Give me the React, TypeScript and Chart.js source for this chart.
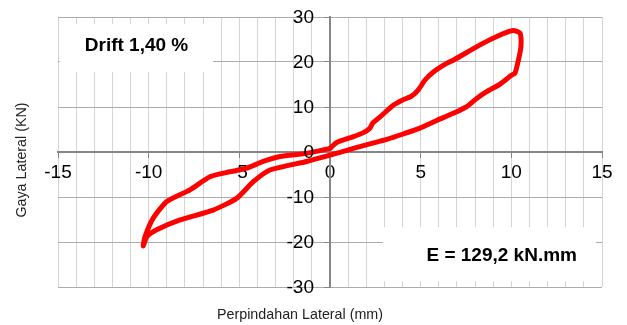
import React, { useEffect, useRef } from "react";
import { Chart, registerables } from "chart.js";

Chart.register(...registerables);

// Hysteresis loop: displacement (mm) and lateral force (kN)
const dispMM = [
  0, 0.37, 1.29, 1.84, 2.2, 2.35, 2.76, 3.49, 4.04, 4.5, 4.87, 5.24, 5.7, 6.43, 6.8, 8.27, 9.38, 10.1, 10.48, 10.53, 10.39, 10.2,
  10.02, 9.38, 8.64, 8.09, 7.54, 6.8, 5.88, 4.96, 4.04, 3.13, 2.2, 1.29, 0, -1.29, -3.31, -4.23, -5.15, -6.44, -8.27, -9.56, -10.1, -10.3,
  -10.2, -9.75, -9.0, -7.72, -6.62, -5.52, -4.6, -3.68, -2.76, -1.29, 0,
];
const forceKN = [
  0.8, 2.1, 3.4, 4.3, 5.3, 6.4, 7.8, 10.4, 11.6, 12.4, 13.8, 16, 17.8, 19.7, 20.4, 23.8, 26, 27, 26.4, 23.4, 20.4, 17.5,
  17.1, 15.1, 13.4, 11.9, 10.1, 8.6, 7, 5.3, 4, 2.8, 1.8, 0.8, -0.7, -2.1, -4, -6.6, -10.3, -12.9, -15.1, -17.3, -18.8, -20.9,
  -18.8, -14.7, -11, -8.4, -5.5, -4.4, -3.6, -2.1, -1, -0.3, 0.8,
];

const xMin = -15;
const xMax = 15;
const yMin = -30;
const yMax = 30;
const xLabelStep = 5;
const yTickLabels = ["-30", "-20", "-10", "0", "10", "20", "30"];

const xTitle = "Perpindahan Lateral (mm)";
const yTitle = "Gaya Lateral (KN)";
const driftText = "Drift 1,40 %";
const energyText = "E = 129,2 kN.mm";

const FONT = "'Liberation Sans', Arial, sans-serif";

const overlayPlugin = {
  id: "overlay",
  beforeDatasetsDraw(chart: any) {
    const ctx = chart.ctx;
    const xs = chart.scales.x;
    const ys = chart.scales.y;
    ctx.save();
    ctx.fillStyle = "#ffffff";
    const box = (x0: number, x1: number, y0: number, y1: number) => {
      const px0 = xs.getPixelForValue(x0);
      const px1 = xs.getPixelForValue(x1);
      const py0 = ys.getPixelForValue(y0);
      const py1 = ys.getPixelForValue(y1);
      ctx.fillRect(px0, py1, px1 - px0, py0 - py1);
    };
    box(-14.9, -6.45, 17.8, 28.4);
    box(2.92, 14.67, -28.7, -16.7);
    ctx.fillStyle = "#000000";
    ctx.font = `bold 19px ${FONT}`;
    ctx.textAlign = "center";
    ctx.textBaseline = "middle";
    ctx.fillText(driftText, xs.getPixelForValue(-10.67), ys.getPixelForValue(23.6));
    ctx.fillText(energyText, xs.getPixelForValue(9.47), ys.getPixelForValue(-23.1));
    ctx.restore();
  },
  afterDraw(chart: any) {
    const ctx = chart.ctx;
    const area = chart.chartArea;
    const xs = chart.scales.x;
    const ys = chart.scales.y;
    ctx.save();
    // y tick labels, right aligned left of the centred y axis
    ctx.fillStyle = "#000000";
    ctx.font = `19px ${FONT}`;
    ctx.textAlign = "right";
    ctx.textBaseline = "middle";
    const axisX = xs.getPixelForValue(0);
    yTickLabels.forEach((t) => {
      ctx.fillText(t, axisX - 16, ys.getPixelForValue(Number(t)) + 1);
    });
    // axis titles
    ctx.fillStyle = "#222222";
    ctx.font = `14.3px ${FONT}`;
    ctx.textAlign = "center";
    ctx.fillText(xTitle, (area.left + area.right) / 2 - 30, area.bottom + 28);
    ctx.translate(22, (area.top + area.bottom) / 2 + 8);
    ctx.rotate(-Math.PI / 2);
    ctx.fillText(yTitle, 0, 0);
    ctx.restore();
  },
};

export default function App() {
  const canvasRef = useRef<HTMLCanvasElement | null>(null);

  useEffect(() => {
    if (!canvasRef.current) return;
    const data = dispMM.map((x, i) => ({ x, y: forceKN[i] }));
    const chart = new Chart(canvasRef.current, {
      type: "scatter",
      data: {
        datasets: [
          {
            data,
            showLine: true,
            borderColor: "#ff0000",
            borderWidth: 5,
            pointRadius: 0,
            tension: 0.2,
            borderJoinStyle: "round",
            borderCapStyle: "round",
          } as any,
        ],
      },
      plugins: [overlayPlugin],
      options: {
        responsive: false,
        animation: false,
        layout: { padding: { left: 58, right: 25, top: 17, bottom: 38 } },
        plugins: { legend: { display: false }, tooltip: { enabled: false } },
        scales: {
          x: {
            type: "linear",
            min: xMin,
            max: xMax,
            position: { y: 0 } as any,
            afterFit: (s: any) => {
              s.height = 0;
            },
            ticks: {
              stepSize: 1,
              autoSkip: false,
              maxRotation: 0,
              padding: 4,
              color: "#000000",
              font: { family: FONT, size: 19 },
              callback: (v: any) => (Number(v) % xLabelStep === 0 ? String(v) : ""),
            },
            grid: {
              color: "#d4d4d4",
              lineWidth: 1,
              tickLength: 5,
              tickColor: (c: any) =>
                c.tick && Number(c.tick.value) % xLabelStep === 0 ? "#868686" : "rgba(0,0,0,0)",
            },
            border: { color: "#868686", width: 2 },
          },
          y: {
            type: "linear",
            min: yMin,
            max: yMax,
            position: { x: 0 } as any,
            afterFit: (s: any) => {
              s.width = 0;
            },
            ticks: {
              stepSize: 10,
              color: "rgba(0,0,0,0)",
              font: { family: FONT, size: 19 },
            },
            grid: {
              color: "#ababab",
              lineWidth: 1,
              tickLength: 5,
              tickColor: "#868686",
            },
            border: { color: "#868686", width: 2 },
          },
        },
      },
    });
    return () => chart.destroy();
  }, []);

  return (
    <div style={{ position: "fixed", left: 0, top: 0, width: 627, height: 325, background: "#fff" }}>
      <canvas ref={canvasRef} width={627} height={325} style={{ display: "block" }} />
    </div>
  );
}
